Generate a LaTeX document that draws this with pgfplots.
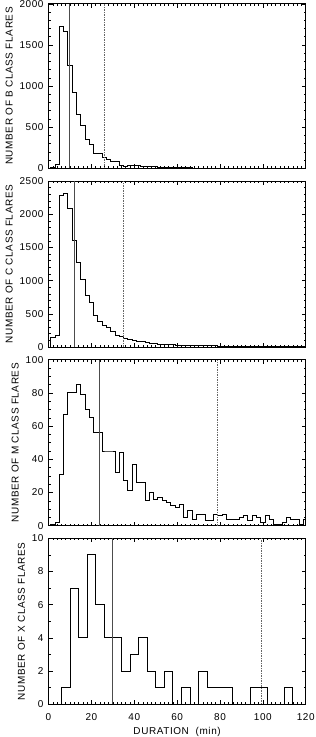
\documentclass[border=0pt]{standalone}
\usepackage{fontspec}
\setmainfont{Liberation Sans}[LetterSpace=6]
\usepackage{pgfplots}
\pgfplotsset{compat=1.18}

\pgfplotsset{
 panel/.style={
  scale only axis, width=257.2bp, height=166bp,
  xmin=0, xmax=120, xtick={0,20,...,120}, minor x tick num=9,
  tick align=inside, major tick length=4bp, minor tick length=2bp,
  every tick/.style={black, line width=0.5bp},
  axis line style={line width=0.7bp},
  /pgf/number format/assume math mode=true,
  /pgf/number format/1000 sep={},
  tick label style={font=\fontsize{10}{11}\selectfont},
  label style={font=\fontsize{10}{11}\selectfont},
  yticklabel style={xshift=-1.5bp},
  xticklabel style={yshift=-5.5bp},
  anchor=south west,
 },
 hist/.style={const plot mark left, black, line width=0.8bp, mark=none},
 meanline/.style={black!70, line width=1bp},
 dline/.style={black!60, line width=0.45bp, dash pattern=on 1.5bp off 1bp},
}

\begin{document}
\begin{tikzpicture}
\path[use as bounding box] (0,0) rectangle (316bp,737bp);

% B class
\begin{axis}[panel, at={(48.5bp,568.7bp)}, height=164.5bp, ymin=0, ymax=2000, ytick={0,500,...,2000}, minor y tick num=4, xticklabels={}, ylabel={NUMBER OF B CLASS FLARES}]
\addplot[hist] coordinates {
(-1,0) (1,15) (3,50) (5,1725) (7,1668) (9,1254) (11,923) (13,657) (15,517) (17,350) (19,287)
(21,180) (23,178) (25,135) (27,108) (29,85) (31,80) (33,30) (35,28) (37,40) (39,35)
(41,30) (43,25) (45,24) (47,22) (49,18) (51,15) (53,12) (55,10) (57,8) (59,7)
(61,6) (63,5) (65,5) (67,4) (69,4) (71,3) (73,3) (75,3) (77,2) (79,2)
(81,2) (83,2) (85,1) (87,2) (89,1) (91,1) (93,1) (95,1) (97,1) (99,1)
(101,0) (103,1) (105,1) (107,0) (109,1) (111,0) (113,1) (115,0) (117,1) (119,0) (121,0)};
\addplot[meanline] coordinates {(9.8,0) (9.8,2000)};
\addplot[dline] coordinates {(26.0,0) (26.0,2000)};
\end{axis}

% C class
\begin{axis}[panel, at={(48.5bp,390bp)}, ymin=0, ymax=2500, ytick={0,500,...,2500}, minor y tick num=4, xticklabels={}, ylabel={NUMBER OF C CLASS FLARES}]
\addplot[hist] coordinates {
(-1,0) (1,150) (3,175) (5,2280) (7,2320) (9,2080) (11,1600) (13,1270) (15,1020) (17,780) (19,670)
(21,470) (23,380) (25,330) (27,290) (29,240) (31,175) (33,155) (35,135) (37,115) (39,100)
(41,85) (43,80) (45,75) (47,60) (49,55) (51,45) (53,40) (55,35) (57,45) (59,30)
(61,25) (63,25) (65,22) (67,20) (69,20) (71,18) (73,20) (75,25) (77,18) (79,15)
(81,12) (83,12) (85,10) (87,10) (89,8) (91,8) (93,10) (95,8) (97,6) (99,7)
(101,6) (103,5) (105,5) (107,6) (109,4) (111,5) (113,4) (115,3) (117,4) (119,3) (121,3)};
\addplot[meanline] coordinates {(12.0,0) (12.0,2500)};
\addplot[dline] coordinates {(34.9,0) (34.9,2500)};
\end{axis}

% M class
\begin{axis}[panel, at={(48.5bp,211.3bp)}, ymin=0, ymax=100, ytick={0,20,...,100}, minor y tick num=3, xticklabels={}, ylabel={NUMBER OF M CLASS FLARES}]
\addplot[hist] coordinates {
(-1,0) (1,1) (3,2) (5,31) (7,67) (9,80) (11,80) (13,85) (15,79) (17,70) (19,65)
(21,56) (23,56) (25,45) (27,45) (29,45) (31,32) (33,44) (35,27) (37,21) (39,37)
(41,26) (43,26) (45,15) (47,20) (49,16) (51,17) (53,15) (55,14) (57,12) (59,11)
(61,13) (63,5) (65,9) (67,4) (69,7) (71,7) (73,3) (75,3) (77,7) (79,6)
(81,7) (83,4) (85,4) (87,4) (89,5) (91,6) (93,3) (95,6) (97,5) (99,2)
(101,6) (103,4) (105,1) (107,1) (109,2) (111,5) (113,4) (115,4) (117,1) (119,4) (121,4)};
\addplot[meanline] coordinates {(24.0,0) (24.0,100)};
\addplot[dline] coordinates {(78.9,0) (78.9,100)};
\end{axis}

% X class
\begin{axis}[panel, at={(48.5bp,32.7bp)}, ymin=0, ymax=10, ytick={0,2,...,10}, minor y tick num=1, ylabel={NUMBER OF X CLASS FLARES}, xlabel={DURATION\ \ (min)}]
\addplot[hist] coordinates {
(2,0) (6,1) (10,7) (14,4) (18,9) (22,6) (26,4) (30,4) (34,2) (38,3) (42,4)
(46,2) (50,1) (54,2) (58,0) (62,1) (66,0) (70,2) (74,1) (78,1) (82,1)
(86,0) (90,0) (94,1) (98,1) (102,0) (106,0) (110,1) (114,0) (118,0)};
\addplot[meanline] coordinates {(30.0,0) (30.0,10)};
\addplot[dline] coordinates {(99.1,0) (99.1,10)};
\end{axis}
\end{tikzpicture}
\end{document}
